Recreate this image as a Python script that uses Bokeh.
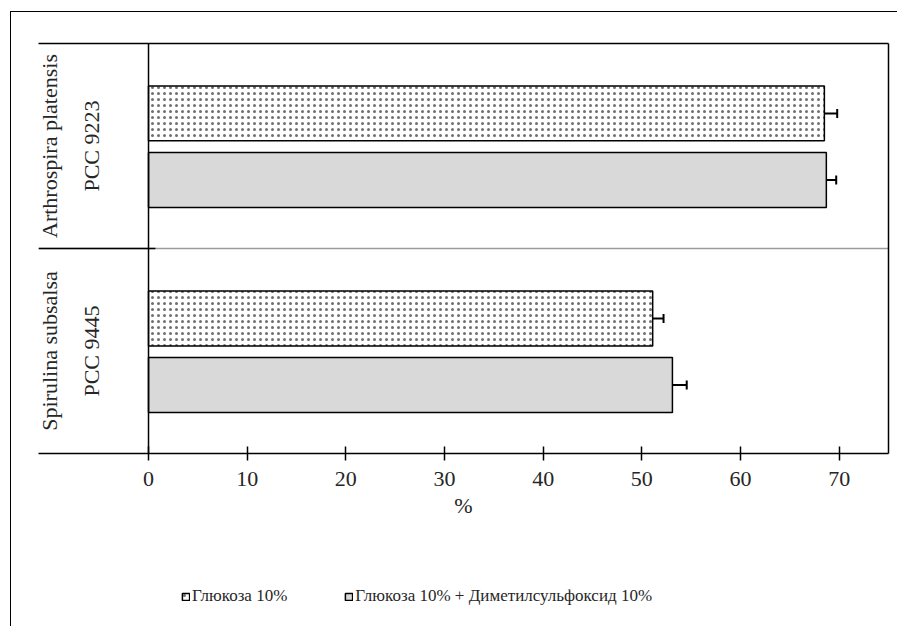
from math import pi

from bokeh.plotting import figure
from bokeh.layouts import column
from bokeh.models import (Range1d, FactorRange, FixedTicker, LinearAxis, Span,
                          Legend, LegendItem, Whisker, TeeHead, ColumnDataSource)
from bokeh.transform import dodge
from bokeh.core.properties import value
from bokeh.embed import file_html
from bokeh.resources import INLINE

# ---------------- data ----------------
species = ["Arthrospira platensis", "Spirulina subsalsa"]
strains = ["PCC 9223", "PCC 9445"]
series_names = ["Глюкоза 10%", "Глюкоза 10% + Диметилсульфоксид 10%"]
glucose = [68.5, 51.1]
glucose_err = [1.3, 1.1]
glucose_dmso = [68.7, 53.1]
glucose_dmso_err = [1.0, 1.45]
x_ticks = [0, 10, 20, 30, 40, 50, 60, 70]
x_label = "%"

FONT = "Liberation Serif"
TXT = "#262626"

src = ColumnDataSource(dict(
    species=species,
    strain=strains,
    g=glucose,
    g_lo=[v - e for v, e in zip(glucose, glucose_err)],
    g_hi=[v + e for v, e in zip(glucose, glucose_err)],
    gd=glucose_dmso,
    gd_lo=[v - e for v, e in zip(glucose_dmso, glucose_dmso_err)],
    gd_hi=[v + e for v, e in zip(glucose_dmso, glucose_dmso_err)],
))

DOT = dict(fill_color="white", hatch_pattern="dot", hatch_color="#333333",
           hatch_alpha=0.7, hatch_scale=6, hatch_weight=0.5,
           line_color="black", line_width=1.5)
GRAY = dict(fill_color="#d9d9d9", line_color="black", line_width=1.5)

p = figure(frame_width=850, frame_height=410, output_backend="svg", toolbar_location=None,
           x_range=Range1d(-11.15, 75), y_range=FactorRange(factors=species[::-1]),
           x_axis_location=None, y_axis_location=None,
           min_border_left=27, min_border_right=9, min_border_top=31,
           min_border_bottom=75)
p.grid.visible = False
p.outline_line_color = None
p.background_fill_color = "white"

OFF1, OFF2, H = 0.159, -0.166, 0.268

p.hbar(y=dodge("species", OFF1, range=p.y_range), left=0, right="g", height=H,
       source=src, **DOT)
p.hbar(y=dodge("species", OFF2, range=p.y_range), left=0, right="gd", height=H,
       source=src, **GRAY)

for off, lo, hi in [(OFF1, "g_lo", "g_hi"), (OFF2, "gd_lo", "gd_hi")]:
    w = Whisker(source=src, base=dodge("species", off, range=p.y_range), lower=lo, upper=hi,
                dimension="width", line_color="black", line_width=2,
                upper_head=TeeHead(size=9, line_color="black", line_width=2),
                lower_head=TeeHead(size=9, line_color="black", line_width=2))
    p.add_layout(w)

# vertical value-axis line at 0 and group divider
p.add_layout(Span(location=0, dimension="height", line_color="black", line_width=1.5))
p.add_layout(Span(location=1, dimension="width", line_color="#9a9a9a", line_width=1.5,
                  level="underlay"))
p.segment(x0=-11.15, x1=0.7, y0=1, y1=1, line_color="black", line_width=1.5)

# category labels (two lines each, rotated)
p.text(x=-10.0, y="species", text="species", source=src, angle=pi / 2,
       text_align="center", text_baseline="alphabetic", text_font=value(FONT),
       text_font_size="22px", text_color=TXT)
p.text(x=-5.8, y="species", text="strain", source=src, angle=pi / 2,
       text_align="center", text_baseline="alphabetic", text_font=value(FONT),
       text_font_size="22px", text_color=TXT)

# axes
xaxis = LinearAxis(ticker=FixedTicker(ticks=x_ticks), axis_label=x_label,
                   major_tick_in=7, major_tick_out=7, minor_tick_line_color=None,
                   axis_line_width=1.5, major_tick_line_width=1.5,
                   major_label_text_font=FONT, major_label_text_font_size="22px",
                   major_label_text_color=TXT, major_label_standoff=11,
                   axis_label_text_font=FONT, axis_label_text_font_size="22px",
                   axis_label_text_font_style="normal", axis_label_text_color=TXT,
                   axis_label_standoff=4)
p.add_layout(xaxis, "below")

for loc in ["above", "right"]:
    ax = LinearAxis(ticker=FixedTicker(ticks=[]), major_tick_out=0, major_tick_in=0,
                    minor_tick_line_color=None, major_label_standoff=0,
                    axis_line_width=1.5, major_label_text_font_size="0px")
    p.add_layout(ax, loc)

# ---------------- legend strip ----------------
q = figure(frame_width=850, frame_height=98, output_backend="svg", toolbar_location=None,
           x_range=Range1d(0, 1), y_range=Range1d(0, 1),
           x_axis_location=None, y_axis_location=None,
           min_border_left=27, min_border_right=9, min_border_top=0, min_border_bottom=0)
q.grid.visible = False
q.outline_line_color = None
# legend keys only: single rows with no position, so nothing is drawn in the strip
k1 = q.hbar(y=[float("nan")], left=[0], right=[1], height=0.1, **DOT)
k2 = q.hbar(y=[float("nan")], left=[0], right=[1], height=0.1, **GRAY)

legend = Legend(items=[LegendItem(label=series_names[0], renderers=[k1]),
                       LegendItem(label=series_names[1], renderers=[k2])],
                orientation="horizontal", location=(143, 20), glyph_width=9, glyph_height=9,
                label_standoff=2, spacing=57, padding=0, margin=0,
                border_line_color=None, background_fill_alpha=0,
                label_text_font=FONT, label_text_font_size="17px",
                label_text_color=TXT)
q.add_layout(legend)

layout = column(p, q, spacing=0, margin=(11, 0, 0, 10),
                styles={"border-top": "1px solid black", "border-left": "1px solid black"})

open("out.html", "w").write(file_html(layout, INLINE))
